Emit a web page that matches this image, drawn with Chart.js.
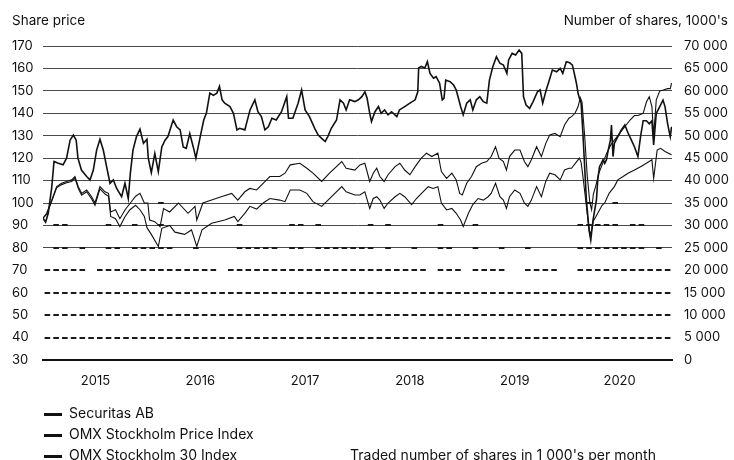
<!DOCTYPE html>
<html>
<head>
<meta charset="utf-8">
<script src="https://cdn.jsdelivr.net/npm/chart.js@4.4.1/dist/chart.umd.min.js"></script>
<style>
  body { margin: 0; background: #fff; font-family: Inter, sans-serif; color: #111; }
  #wrap { position: relative; width: 734px; height: 460px; overflow: hidden; }
  #wrap canvas { position: absolute; left: 0; top: 0; }
  .t { position: absolute; font-size: 13.5px; line-height: 16px; white-space: nowrap; }
  .lg { font-size: 14px; }
  .mk { position: absolute; width: 18px; height: 3px; background: #111; }
</style>
</head>
<body>
<div id="wrap">
  <canvas id="sharePrice" width="734" height="460"></canvas>
  <div class="t" style="left:12px;top:12px">Share price</div>
  <div class="t" style="right:6px;top:12px">Number of shares, 1000's</div>
  <div class="mk" style="left:44px;top:413px"></div>
  <div class="t lg" style="left:69px;top:405px">Securitas AB</div>
  <div class="mk" style="left:44px;top:434px"></div>
  <div class="t lg" style="left:69px;top:426px">OMX Stockholm Price Index</div>
  <div class="mk" style="left:44px;top:455px"></div>
  <div class="t lg" style="left:69px;top:447px">OMX Stockholm 30 Index</div>
  <div class="t lg" style="left:350px;top:447px">Traded number of shares in 1 000's per month</div>
</div>
<script>
// x values are months since Jan 2015
var years = [2015, 2016, 2017, 2018, 2019, 2020];

var secMonth = [0.0,0.3,0.6,1.0,1.26,1.75,2.3,2.7,3.1,3.47,3.8,4.0,4.4,5.0,5.38,5.76,6.14,6.52,6.9,7.28,7.67,8.05,8.43,9.0,9.38,9.76,10.0,10.3,10.7,11.1,11.5,11.9,12.05,12.4,12.8,13.2,13.6,13.97,14.3,14.9,15.3,15.7,16.05,16.4,16.8,17.2,17.5,18.0,18.4,18.7,19.1,19.5,19.9,20.2,20.5,20.8,21.4,21.8,22.2,22.5,23.1,23.7,24.25,24.6,25.0,25.4,25.8,26.2,26.7,27.3,27.9,28.1,28.6,29.2,29.6,30.0,30.5,31.1,31.5,31.9,32.3,32.6,33.0,33.6,34.0,34.4,34.7,35.1,35.7,36.1,36.5,36.85,37.1,37.4,37.6,38.0,38.4,38.7,39.1,39.5,39.9,40.5,40.8,41.4,42.0,42.6,42.9,43.0,43.3,43.7,44.0,44.3,44.7,45.0,45.4,45.7,45.9,46.1,46.6,47.0,47.3,47.6,47.8,48.1,48.5,48.9,49.2,49.6,50.0,50.4,50.8,51.1,51.5,51.9,52.3,52.7,53.1,53.3,53.7,54.1,54.5,54.8,55.0,55.3,55.7,56.1,56.6,56.9,57.2,57.6,57.9,58.3,58.8,59.2,59.5,59.9,60.3,60.6,60.9,61.06,61.25,61.4,61.6,61.8,62.0,62.2,62.5,62.7,62.96,63.16,63.35,63.5,63.7,63.9,64.1,64.3,64.5,64.7,64.95,65.07,65.25,65.4,65.8,66.2,66.6,66.97,67.35,67.7,68.1,68.4,68.7,69.07,69.4,69.7,69.9,70.2,70.6,70.97,71.2,71.5,71.8,71.95];
var secPrice = [93.2,91.5,95.4,107,118.5,117.7,117,120,128,130.3,128,120,114.7,111.8,110.3,114.7,123.6,128.4,123.6,116.2,108.8,110.3,106.5,102.8,108.8,102,113.3,123.6,129.6,132.9,126.6,128.4,120,113.5,122,114,125,128,129.6,137,134,132.6,125,124.4,131,125,120,129.6,137,140,149,148,149,152,146,144.5,143,140,132.6,133.3,132.6,141.5,146,140.7,138.5,132.6,134,137.8,137,140.7,147.4,137.8,137.8,144.5,150.4,141.5,138.5,133.3,130.3,128.8,127.4,129.6,133.3,137,146,144.5,141.5,146,145.2,146,147.4,149.6,146.7,140,136.3,140.7,143,140,141.5,139.3,140.7,138.5,141.5,143,144.5,146,149.6,160.2,160.9,160.2,163,157.8,155.6,156.3,153.4,146,146.7,154.8,154.1,152.6,150.4,146,143,139.3,144.5,146,141.5,146,147.4,145.2,144.5,154.8,160.9,165.2,162.3,161.5,157.8,163.8,166.7,166,168.2,166.7,147.4,143.7,142.2,145.2,149.6,150.4,144.5,150.4,154.1,159.3,158.5,160,157.8,163,162.5,161.5,156.3,153.4,148.9,146.7,144.5,131.2,116.3,101.4,88,83.5,92.4,97,101.4,110.3,116.2,117.7,119.3,117.7,119.3,123.6,128,134.8,120.7,126.6,129.6,132.6,134.8,131.2,128,125.1,120.7,129.6,136.7,136.7,135.3,136.7,125.9,140,143,145.9,143,135.3,129.6,134];

var spiMonth = [0.0,0.42,1.0,1.56,2.13,2.7,3.28,3.66,4.04,4.42,5.0,5.57,5.95,6.52,7.1,7.5,7.75,8.3,8.8,9.4,10.0,10.6,11.1,11.6,12.0,12.2,12.8,13.4,13.8,14.5,15.5,16.6,17.4,17.6,18.3,19.3,20.4,21.6,22.3,23.1,23.68,24.45,25.2,25.97,27.1,27.7,28.3,29.4,30.2,30.9,31.9,32.8,34.2,34.7,35.7,36.27,36.84,37.4,37.8,38.2,38.56,39.05,39.5,40.3,40.85,41.4,42.0,42.6,43.3,43.9,44.5,45.2,45.6,46.2,46.8,47.3,47.7,48.0,48.5,49.05,49.6,50.2,50.8,51.3,51.8,52.2,52.7,53.05,53.4,54.0,54.6,55.1,55.5,55.9,56.5,57.05,57.55,58.0,58.6,59.2,59.7,60.2,60.5,60.9,61.25,61.5,61.7,62.0,62.3,62.6,62.8,63.0,63.3,63.6,64.0,64.5,65.0,65.4,66.0,66.6,67.2,67.7,68.1,68.7,69.07,69.4,69.7,69.9,70.2,70.6,71.0,71.5,71.8,71.95];
var spiValue = [93.2,95.4,101.3,107.3,108.8,109.6,110.3,111.8,107.3,104.3,105.8,102.8,100,107.3,105,104.3,96,97,93,97,100,103,104.3,100,100,92.4,91.7,89.5,97.5,96,100,95.4,98.5,92.4,100,101.3,102.8,104.3,101.3,105,106.5,105.8,108.8,111.8,111.8,113.3,117,117.7,115.5,113.3,109.6,113.3,118.5,115.5,114.7,117,117.7,109.6,113.3,115.5,111.8,109.6,112.6,116.2,117.7,114.7,112.6,116.2,120,122.2,120.7,122.2,114,111,113.3,110.3,104.3,103.6,108.8,111.8,116.2,117.7,118.5,120.7,125.1,120,118.5,114.7,120.7,123.6,123.6,118.5,116.2,119.3,125.1,120.7,126.6,130.3,131,129.6,134.8,137.8,138.5,140,143,147,145,130,112,100,97,104,108,113,117,122,126,128,131,134,137,139,139,140,145,147.4,143,130,146,150,150.4,151,151,153.4];

var omx30Month = [0.0,0.42,1.0,1.56,2.13,2.7,3.28,3.66,4.04,4.42,5.0,5.57,5.95,6.52,7.1,7.5,7.75,8.3,8.8,9.4,9.95,10.6,11.1,11.6,11.9,12.4,13.2,13.6,14.5,15.1,16.2,17.0,17.6,18.2,19.3,20.8,21.9,22.3,23.1,23.68,24.45,25.2,25.97,27.1,27.7,28.3,29.4,30.2,30.9,31.9,32.8,34.2,34.7,35.7,36.27,36.84,37.4,37.8,38.2,38.56,39.05,39.5,40.3,40.85,41.4,42.2,42.75,43.5,44.1,44.65,45.2,45.6,46.2,46.8,47.3,47.8,48.1,48.7,49.2,49.8,50.4,50.95,51.3,51.8,52.3,52.7,53.05,53.4,54.0,54.6,55.1,55.5,55.9,56.5,57.05,57.55,58.0,58.6,59.2,59.7,60.2,60.5,61.0,61.4,61.6,61.8,62.1,62.4,62.6,62.8,63.0,63.3,63.5,64.0,64.3,64.8,65.4,65.8,66.4,66.97,67.7,68.4,69.07,69.7,69.9,70.3,70.7,71.2,71.95];
var omx30Value = [93.2,95,100.8,106.8,108.2,109,109.6,111,106.5,103.5,105,101.8,99,106.3,104,103,94,93,89.5,94,97,99,97,94,89,86,80.6,88.7,90,87,86,88,80.6,88,91,92.4,94,91.7,95.4,98.5,97.3,100,102,101.3,100.6,105.8,105.8,104.3,100.6,98.5,102,107.3,105,103.6,103.6,105,97.6,102,102.8,101.3,97.6,100,102.8,104.3,102.8,99.3,102,105,107.3,106.5,107.3,100,96.9,97.6,95.4,92.4,89.5,95.4,99.3,102,101.3,102.8,104.3,108.8,102.8,101.3,97.6,102.8,105.8,104.3,100,98.5,101.3,107.3,102.8,109.6,113.3,112.6,110.3,114.7,115.5,115.5,118,120,118,112,102,92,86,88,92,94,95.4,99,100,104.3,107.3,110.3,111.8,113.3,114.7,116.2,117.7,119.3,111,123.6,124.4,123,121.5];

// traded shares per month, 1000's, Jan 2015 - Dec 2020
var tradedShares = [22000,32000,31000,22000,27000,18000,22000,31000,27000,23000,31000,27000,
  26000,36000,27000,23000,22000,26000,22000,22000,18000,23000,31000,27000,
  27000,26000,26000,23000,31000,31000,23000,31000,27000,26000,27000,27000,
  26000,31000,23000,31000,22000,22000,27000,22000,18000,31000,27000,22000,
  18000,31000,22000,22000,27000,18000,18000,27000,22000,22000,23000,18000,
  19500,31000,38000,32000,31000,36000,27000,31000,31000,23000,27000,22000];

function pairs(xs, ys) {
  return xs.map(function(x, i) { return { x: x, y: ys[i] }; });
}

// bars are white, only the 5 000 steps show through them as dashes
function volumePattern(context) {
  var chart = context.chart;
  var sc = chart.scales.y2;
  if (!sc || !chart.chartArea) return 'rgba(0,0,0,0)';
  var c = document.createElement('canvas');
  c.width = 1;
  c.height = chart.height;
  var g = c.getContext('2d');
  g.fillStyle = '#1a1a1a';
  for (var v = 5000; v <= 70000; v += 5000) {
    var y = Math.round(sc.getPixelForValue(v));
    g.fillRect(0, y - 1, 1, 2);
  }
  return chart.ctx.createPattern(c, 'repeat');
}

function spaced(v) {
  return String(v).replace(/\B(?=(\d{3})+(?!\d))/g, ' ');
}

window.onload = function() {
  Chart.defaults.font.family = 'Inter, sans-serif';
  Chart.defaults.font.size = 13;
  Chart.defaults.color = '#111';

  var config = {
    type: 'line',
    data: {
      datasets: [{
        label: 'Securitas AB',
        data: pairs(secMonth, secPrice),
        borderColor: '#111',
        borderWidth: 1.6,
        pointRadius: 0,
        order: 0
      }, {
        label: 'OMX Stockholm Price Index',
        data: pairs(spiMonth, spiValue),
        borderColor: '#111',
        borderWidth: 1.1,
        pointRadius: 0,
        order: 1
      }, {
        label: 'OMX Stockholm 30 Index',
        data: pairs(omx30Month, omx30Value),
        borderColor: '#111',
        borderWidth: 1.1,
        pointRadius: 0,
        order: 2
      }, {
        type: 'bar',
        label: "Traded number of shares in 1 000's per month",
        data: tradedShares.map(function(v, i) { return { x: i + 0.5, y: v }; }),
        yAxisID: 'y2',
        backgroundColor: volumePattern,
        borderWidth: 0,
        barPercentage: 0.64,
        categoryPercentage: 1,
        order: 10
      }]
    },
    options: {
      responsive: false,
      animation: false,
      events: [],
      layout: { padding: { left: 12, right: 0, top: 46, bottom: 0 } },
      plugins: { legend: { display: false }, tooltip: { enabled: false } },
      scales: {
        x: {
          type: 'linear',
          min: 0,
          max: 72,
          offset: false,
          grid: { display: false, drawTicks: false },
          border: { display: true, color: '#111', width: 2 },
          afterBuildTicks: function(scale) {
            scale.ticks = years.map(function(y, i) { return { value: 6 + 12 * i }; });
          },
          ticks: {
            padding: 13,
            autoSkip: false,
            maxRotation: 0,
            callback: function(v) { return String(years[Math.round((v - 6) / 12)]); }
          },
          afterFit: function(scale) { scale.height = 100; }
        },
        y: {
          position: 'left',
          min: 30,
          max: 170,
          ticks: { stepSize: 10, autoSkip: false, crossAlign: 'far', padding: 0 },
          grid: {
            drawTicks: false,
            lineWidth: 1,
            color: function(ctx) {
              return ctx.tick && ctx.tick.value >= 80 ? '#4a4a4a' : 'rgba(0,0,0,0)';
            }
          },
          border: { display: false },
          afterFit: function(scale) { scale.width = 31; }
        },
        y2: {
          position: 'right',
          min: 0,
          max: 70000,
          ticks: { stepSize: 5000, autoSkip: false, padding: 12, callback: function(v) { return spaced(v); } },
          grid: { display: false, drawTicks: false },
          border: { display: false },
          afterFit: function(scale) { scale.width = 62; }
        }
      }
    }
  };

  var ctx = document.getElementById('sharePrice').getContext('2d');
  new Chart(ctx, config);
};
</script>
</body>
</html>
